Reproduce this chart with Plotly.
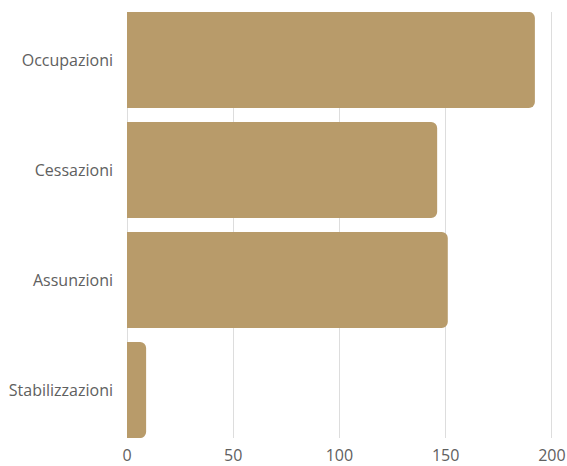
import plotly.graph_objects as go

categories = ["Stabilizzazioni", "Assunzioni", "Cessazioni", "Occupazioni"]
values = [9, 151, 146, 192]
x_ticks = [0, 50, 100, 150, 200]

fig = go.Figure(go.Bar(
    y=categories, x=values, orientation="h",
    marker=dict(color="#b89b6a", line=dict(width=0)),
    width=0.873,
))
fig.update_layout(
    width=567, height=466,
    margin=dict(l=127, r=13, t=12, b=28),
    plot_bgcolor="white", paper_bgcolor="white",
    barcornerradius=6,
    font=dict(family="Open Sans", size=16, color="#606060"),
    showlegend=False,
)
fig.update_xaxes(
    range=[0, 201], tickvals=x_ticks, showgrid=True, gridcolor="#dddddd",
    gridwidth=1, zeroline=True, zerolinecolor="#dddddd", zerolinewidth=1,
    ticks="", ticklen=0, showline=False, automargin=False,
    ticklabelstandoff=6,
)
fig.update_yaxes(
    range=[-0.436, 3.436], showgrid=False, zeroline=False, ticks="",
    ticklabelstandoff=13, showline=False, automargin=False,
)
fig.write_html(
    "out.html",
    config={"displayModeBar": False},
    post_script="document.body.style.margin='0';document.body.style.overflow='hidden';",
)
